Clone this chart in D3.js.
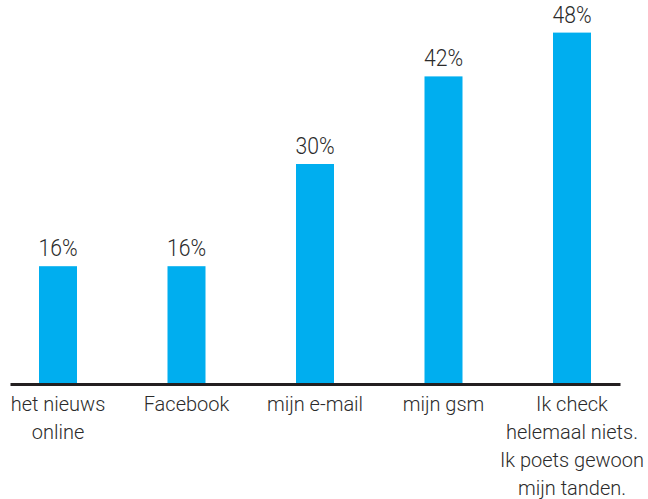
<!DOCTYPE html>
<html>
<head>
<meta charset="utf-8">
<script src="https://cdn.jsdelivr.net/npm/d3@7/dist/d3.min.js"></script>
<style>
  html, body { margin: 0; padding: 0; background: #fff; }
  svg { display: block; }
</style>
</head>
<body>
<svg id="chart" width="648" height="499"></svg>
<script>
// Survey answers and their shares (percent)
const categories = [
  "het nieuws online",
  "Facebook",
  "mijn e-mail",
  "mijn gsm",
  "Ik check helemaal niets. Ik poets gewoon mijn tanden."
];
const values = [16, 16, 30, 42, 48];
// Category labels as they break over lines under the axis
const tickLabelLines = [
  ["het nieuws", "online"],
  ["Facebook"],
  ["mijn e-mail"],
  ["mijn gsm"],
  ["Ik check", "helemaal niets.", "Ik poets gewoon", "mijn tanden."]
];

const svg = d3.select("#chart");
const baseY = 383;
const fontFamily = "Roboto, 'Liberation Sans', Arial, sans-serif";

const x = d3.scaleBand()
  .domain(categories)
  .range([10, 620])
  .paddingInner(0.7043)
  .paddingOuter(0.2257);

const y = d3.scaleLinear()
  .domain([0, 50])
  .range([baseY, baseY - 365]);

const data = categories.map((c, i) => ({ cat: c, value: values[i] }));

// Bars
svg.append("g")
  .selectAll("rect")
  .data(data)
  .join("rect")
  .attr("x", d => x(d.cat))
  .attr("y", d => y(d.value))
  .attr("width", x.bandwidth())
  .attr("height", d => y(0) - y(d.value))
  .attr("fill", "#00aeef");

// Value labels above the bars (slightly condensed)
svg.append("g")
  .selectAll("text")
  .data(data)
  .join("text")
  .attr("transform", d => `translate(${x(d.cat) + x.bandwidth() / 2},${y(d.value) - 10}) scale(0.9,1)`)
  .attr("text-anchor", "middle")
  .style("font-family", fontFamily)
  .style("font-weight", 300)
  .style("font-size", "23.5px")
  .attr("fill", "#2b2b2b")
  .text(d => d.value + "%");

// Category axis along the baseline
const axis = svg.append("g")
  .attr("transform", `translate(0,${baseY + 1})`)
  .call(d3.axisBottom(x).tickSize(0).tickSizeOuter(0));

axis.select(".domain")
  .attr("stroke", "#231f20")
  .attr("stroke-width", 3);

axis.selectAll(".tick text").remove();
axis.selectAll(".tick")
  .append("text")
  .attr("text-anchor", "middle")
  .attr("fill", "#2b2b2b")
  .style("font-family", fontFamily)
  .style("font-weight", 300)
  .style("font-size", "20px")
  .each(function (cat) {
    const lines = tickLabelLines[categories.indexOf(cat)];
    const t = d3.select(this);
    lines.forEach((ln, j) => {
      t.append("tspan")
        .attr("x", 0)
        .attr("y", 27 + j * 28)
        .text(ln);
    });
  });
</script>
</body>
</html>
